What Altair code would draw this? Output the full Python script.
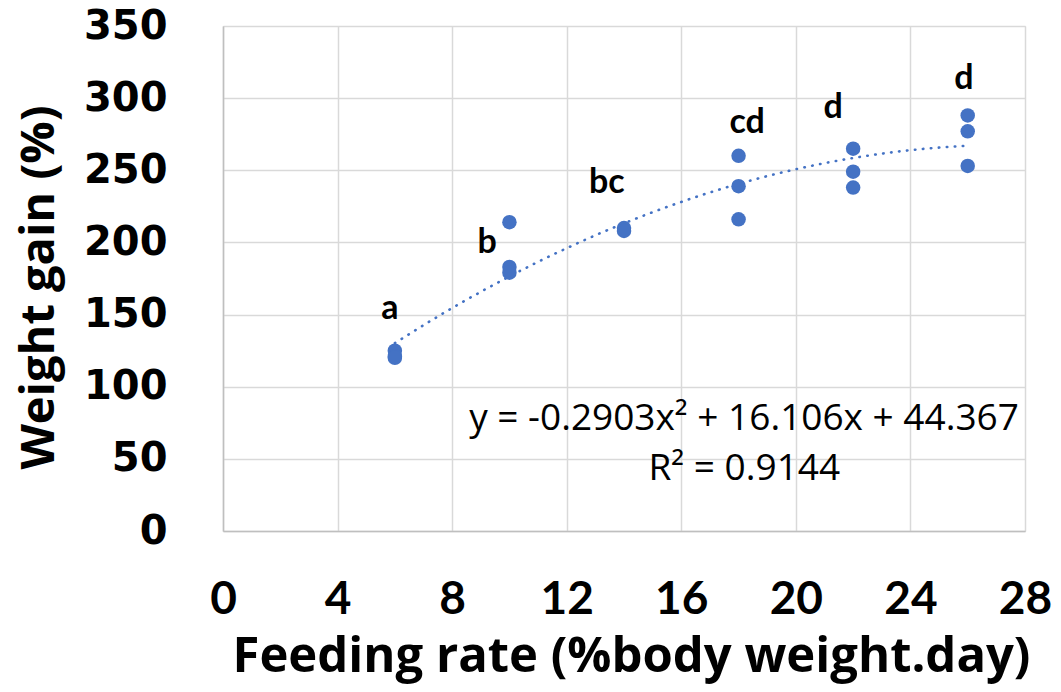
import altair as alt
import pandas as pd

feeding_rate = [6, 6, 6, 10, 10, 10, 14, 14, 18, 18, 18, 22, 22, 22, 26, 26, 26]
weight_gain = [125, 121, 120, 214, 183, 179, 210, 208, 260, 239, 216, 265, 249, 238, 288, 277, 253]

# Significance letters
letter_text = ["a", "b", "bc", "cd", "d", "d"]
letter_x = [5.83, 9.22, 13.4, 18.3, 21.3, 25.87]
letter_y = [147, 193, 234, 276, 286, 306]

# Equation annotation
eq_text = ["y = -0.2903x² + 16.106x + 44.367", "R² = 0.9144"]
eq_x = [18.19, 18.2]
eq_y = [70, 35.5]

BLUE = "#4472C4"

df = pd.DataFrame({"x": feeding_rate, "y": weight_gain})
df_letters = pd.DataFrame({"x": letter_x, "y": letter_y, "t": letter_text})
df_eq = pd.DataFrame({"x": eq_x, "y": eq_y, "t": eq_text})

xscale = alt.Scale(domain=[0, 28], nice=False, zero=False)
yscale = alt.Scale(domain=[0, 350], nice=False)

xaxis = alt.Axis(
    values=[0, 4, 8, 12, 16, 20, 24, 28],
    title="Feeding rate (%body weight.day)",
    labelFont="Lato", labelFontWeight="bold", labelFontSize=46, labelColor="black",
    labelBaseline="alphabetic", labelPadding=82, ticks=False, tickSize=0,
    titleFont="Open Sans", titleFontWeight="bold", titleFontSize=49, titleColor="black",
    titleBaseline="alphabetic", titleY=140, titleX=408,
    domainColor="#BFBFBF", domainWidth=1.5,
    gridColor="#D9D9D9", gridWidth=1.5, labelFlush=False,
)
yaxis = alt.Axis(
    values=[0, 50, 100, 150, 200, 250, 300, 350],
    title="Weight gain (%)",
    labelFont="DejaVu Sans", labelFontWeight="bold", labelFontSize=40, labelColor="black",
    labelPadding=56, ticks=False, tickSize=0,
    titleFont="Open Sans", titleFontWeight="bold", titleFontSize=47, titleColor="black",
    titleBaseline="alphabetic", titleX=-170, titleY=261,
    domainColor="#BFBFBF", domainWidth=1.5,
    gridColor="#D9D9D9", gridWidth=1.5, labelFlush=False,
)

base = alt.Chart(df)

points = base.mark_circle(size=210, color=BLUE, opacity=1).encode(
    x=alt.X("x:Q", scale=xscale, axis=xaxis),
    y=alt.Y("y:Q", scale=yscale, axis=yaxis),
)

trend = base.transform_regression(
    "x", "y", method="poly", order=2, extent=[6, 26]
).mark_line(
    color=BLUE, strokeWidth=2.6, strokeDash=[0.5, 7.5], strokeCap="round"
).encode(
    x=alt.X("x:Q", scale=xscale),
    y=alt.Y("y:Q", scale=yscale),
)

letters = alt.Chart(df_letters).mark_text(
    font="Lato", fontWeight="bold", fontSize=34, color="black", baseline="alphabetic"
).encode(
    x=alt.X("x:Q", scale=xscale),
    y=alt.Y("y:Q", scale=yscale),
    text="t:N",
)

eq = alt.Chart(df_eq).mark_text(
    font="Open Sans", fontSize=37, color="black", baseline="alphabetic"
).encode(
    x=alt.X("x:Q", scale=xscale),
    y=alt.Y("y:Q", scale=yscale),
    text="t:N",
)

chart = alt.layer(trend, points, letters, eq).properties(
    width=802, height=505,
    autosize=alt.AutoSizeParams(type="none"),
    padding={"left": 215, "top": 18, "right": 28, "bottom": 153},
).configure_view(stroke=None).configure(background="white")

chart.save("out.html", embed_options={"renderer": "svg", "actions": False})
